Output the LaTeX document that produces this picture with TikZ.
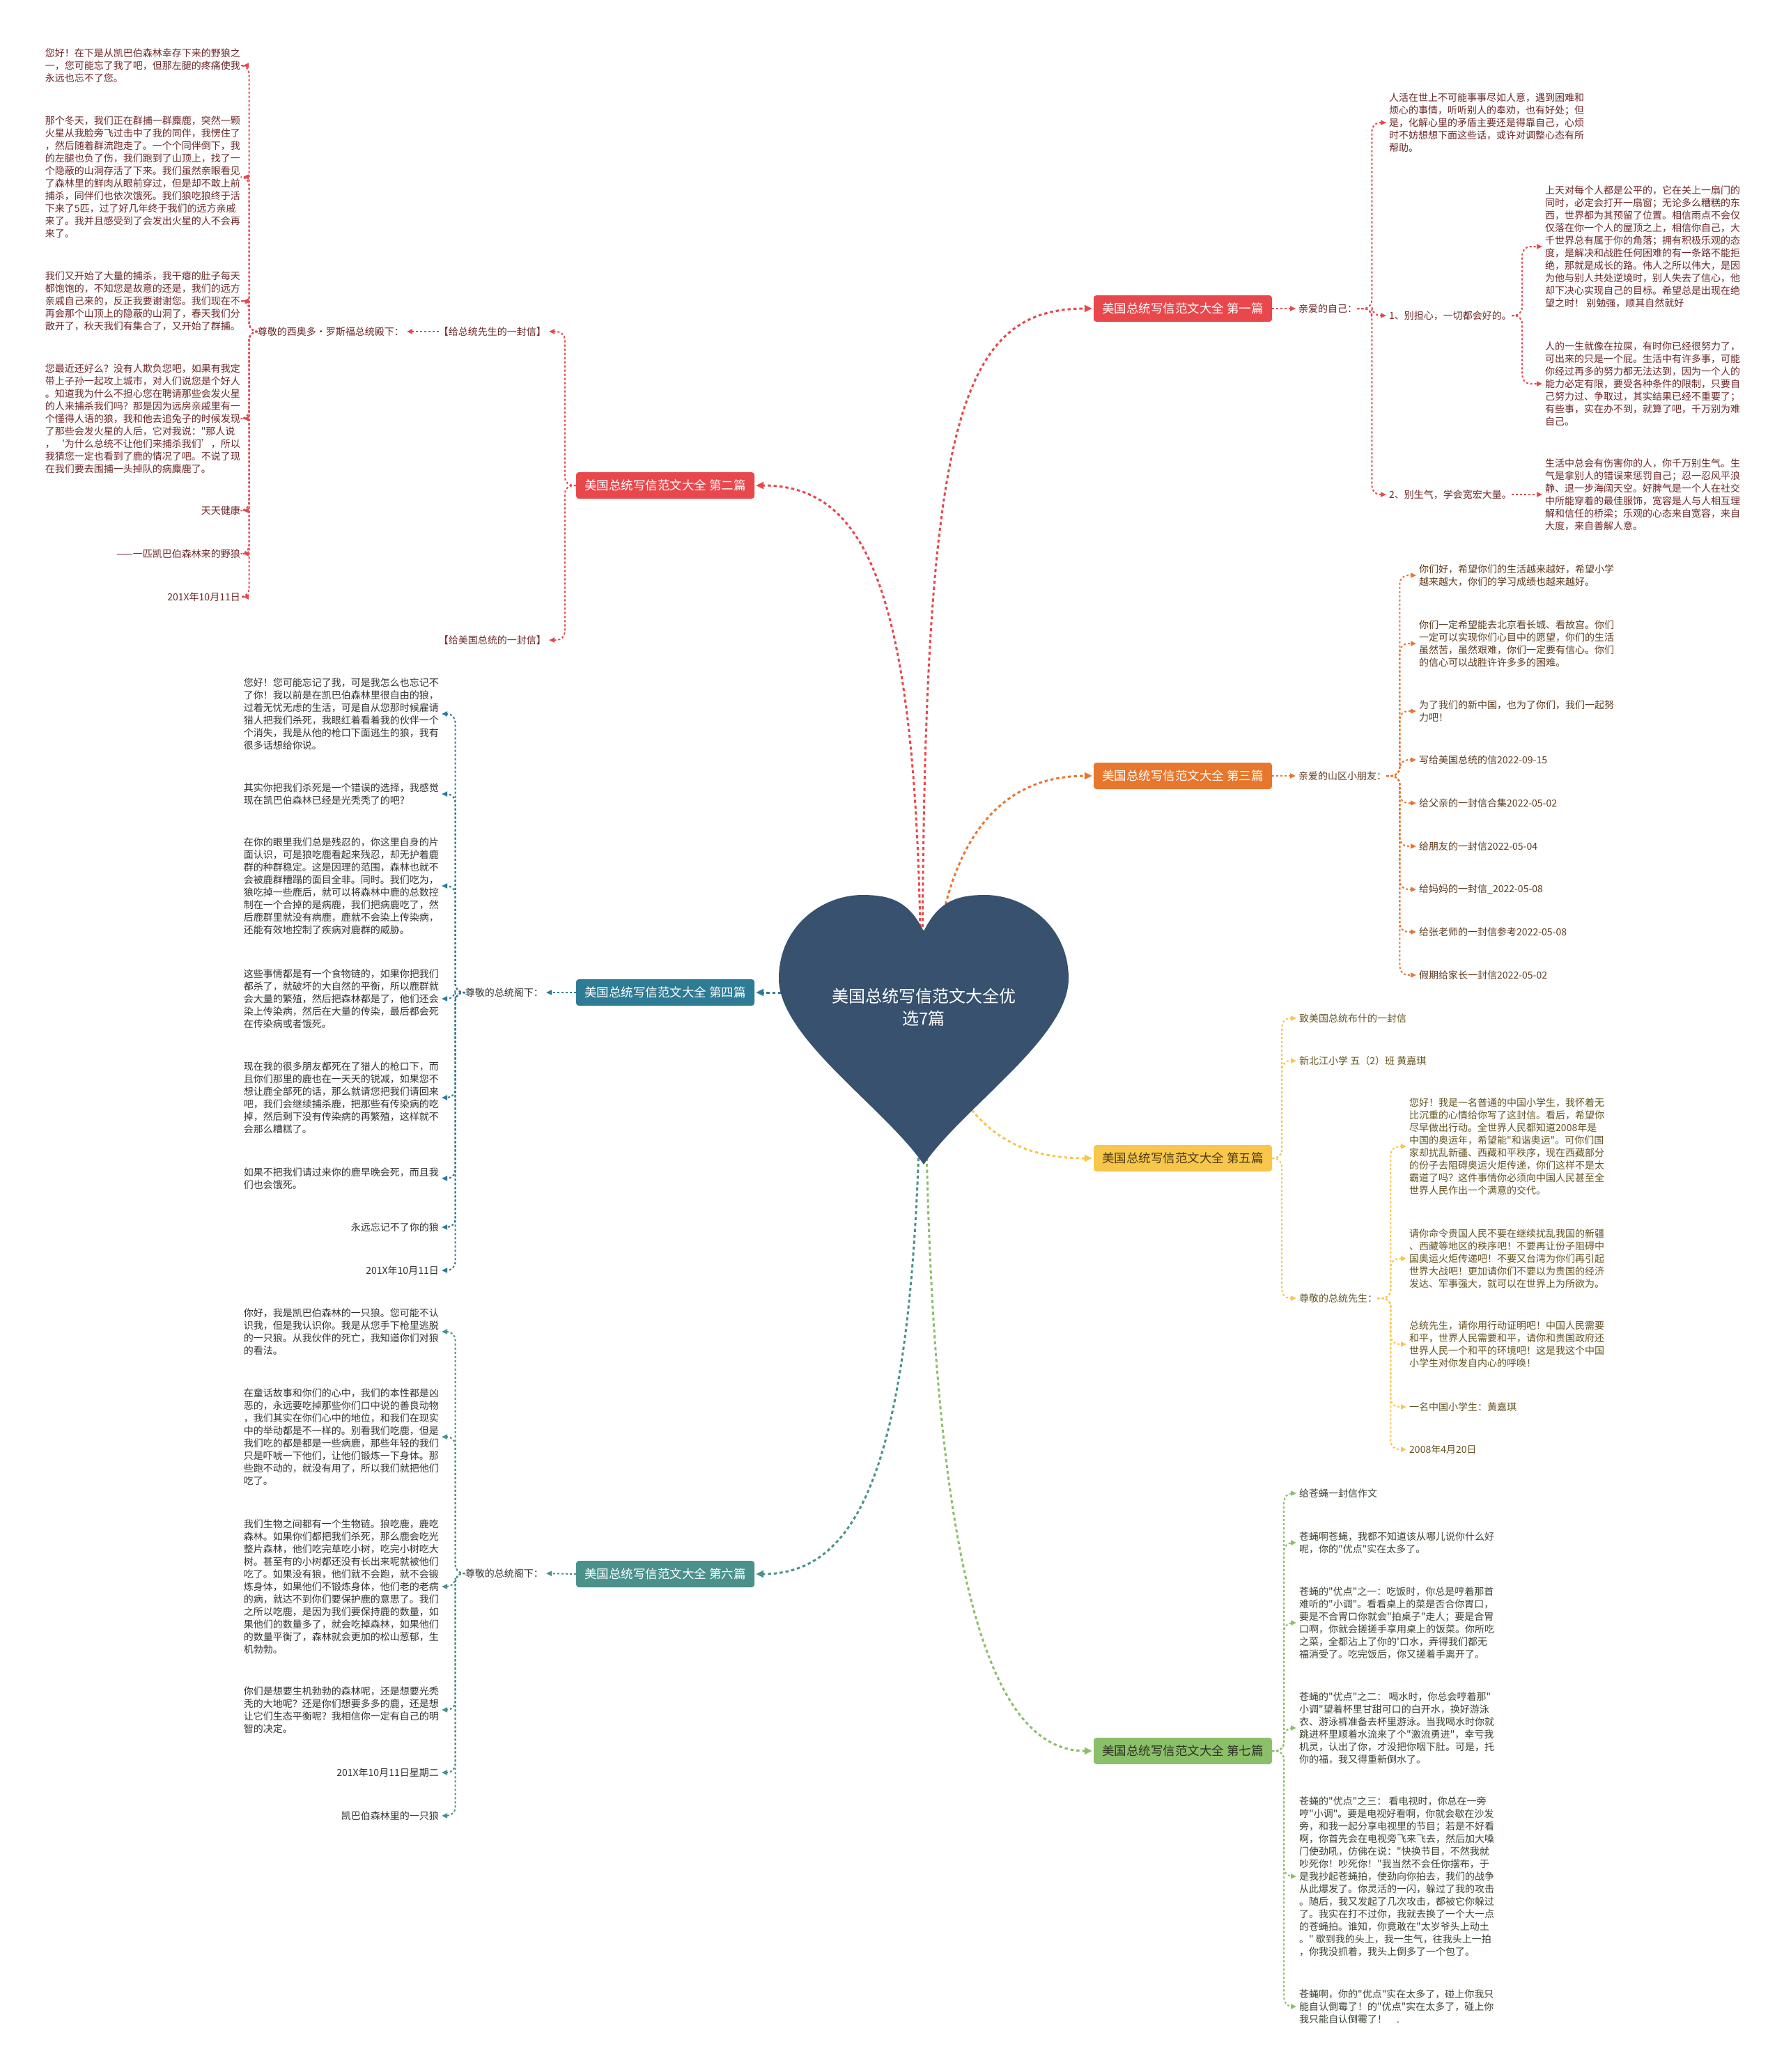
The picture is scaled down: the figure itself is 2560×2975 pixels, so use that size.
\documentclass[tikz,border=0pt]{standalone}
\usepackage{fontspec}
\newfontfamily\cjkfont{Noto Sans CJK SC}
\setmainfont{Noto Sans CJK SC}
\usetikzlibrary{arrows.meta}
\definecolor{cHeart}{HTML}{37516F}
\definecolor{cRed}{HTML}{E8474C}
\definecolor{cOrg}{HTML}{E8762D}
\definecolor{cTeal}{HTML}{2E7B96}
\definecolor{cYel}{HTML}{F7C64B}
\definecolor{cTg}{HTML}{4A918C}
\definecolor{cGrn}{HTML}{8CBF6A}
\definecolor{tRed}{HTML}{6E2727}
\definecolor{tOrg}{HTML}{5E3A1C}
\definecolor{tGray}{HTML}{333333}
\definecolor{tYel}{HTML}{65531F}
\definecolor{tGrn}{HTML}{3A4432}
\definecolor{tYelBox}{HTML}{4A3A12}
\definecolor{tGrnBox}{HTML}{2B3323}
\tikzset{
  branch/.style={rounded corners=4pt, minimum width=256pt, minimum height=38pt, inner sep=0pt, font=\cjkfont\fontsize{17.5}{20}\selectfont},
  txt/.style={inner sep=0pt, align=left, font=\cjkfont\fontsize{14}{18}\selectfont},
  conn/.style={line width=2pt, dash pattern=on 3pt off 3pt, rounded corners=12pt, -{Triangle[length=8pt,width=7pt]}, shorten >=4pt},
  mainconn/.style={line width=3pt, dash pattern=on 4.5pt off 4pt, -{Triangle[length=11pt,width=10pt]}, shorten >=2pt},
}
\newcommand\myBrR[4]{\draw[conn,#1] (#2.east) -- ([xshift=#3]#2.east) |- (#4.west);}
\newcommand\myBrL[4]{\draw[conn,#1] (#2.west) -- ([xshift=-#3]#2.west) |- (#4.east);}
\begin{document}
\begin{tikzpicture}[x=1pt,y=-1pt]
\fill[white] (0,0) rectangle (2560,2975);
\useasboundingbox (0,0) rectangle (2560,2975);

% branch boxes
\node[branch, fill=cRed, text=white] (b1) at (1698,443) {美国总统写信范文大全 第一篇};
\node[branch, fill=cRed, text=white] (b2) at (955,697) {美国总统写信范文大全 第二篇};
\node[branch, fill=cOrg, text=white] (b3) at (1698,1114) {美国总统写信范文大全 第三篇};
\node[branch, fill=cTeal, text=white] (b4) at (955,1425) {美国总统写信范文大全 第四篇};
\node[branch, fill=cYel, text=tYelBox] (b5) at (1698,1663) {美国总统写信范文大全 第五篇};
\node[branch, fill=cTg, text=white] (b6) at (955,2260) {美国总统写信范文大全 第六篇};
\node[branch, fill=cGrn, text=tGrnBox] (b7) at (1698,2514) {美国总统写信范文大全 第七篇};

% ---------- branch 1
\begin{scope}[every node/.style={txt, text=tRed, anchor=west}]
\node (n1a) at (1864,443) {亲爱的自己：};
\node (n1b) at (1994,176) {人活在世上不可能事事尽如人意，遇到困难和\\烦心的事情，听听别人的奉劝，也有好处；但\\是，化解心里的矛盾主要还是得靠自己，心烦\\时不妨想想下面这些话，或许对调整心态有所\\帮助。};
\node (n1c) at (1994,453) {1、别担心，一切都会好的。};
\node (n1c1) at (2218,354) {上天对每个人都是公平的，它在关上一扇门的\\同时，必定会打开一扇窗；无论多么糟糕的东\\西，世界都为其预留了位置。相信雨点不会仅\\仅落在你一个人的屋顶之上，相信你自己，大\\千世界总有属于你的角落；拥有积极乐观的态\\度，是解决和战胜任何困难的有一条路不能拒\\绝，那就是成长的路。伟人之所以伟大，是因\\为他与别人共处逆境时，别人失去了信心，他\\却下决心实现自己的目标。希望总是出现在绝\\望之时！ 别勉强，顺其自然就好};
\node (n1c2) at (2218,551) {人的一生就像在拉屎，有时你已经很努力了，\\可出来的只是一个屁。生活中有许多事，可能\\你经过再多的努力都无法达到，因为一个人的\\能力必定有限，要受各种条件的限制，只要自\\己努力过、争取过，其实结果已经不重要了；\\有些事，实在办不到，就算了吧，千万别为难\\自己。};
\node (n1d) at (1994,710) {2、别生气，学会宽宏大量。};
\node (n1d1) at (2218,710) {生活中总会有伤害你的人，你千万别生气。生\\气是拿别人的错误来惩罚自己；忍一忍风平浪\\静、退一步海阔天空。好脾气是一个人在社交\\中所能穿着的最佳服饰，宽容是人与人相互理\\解和信任的桥梁；乐观的心态来自宽容，来自\\大度，来自善解人意。};
\end{scope}
\draw[conn,cRed] (b1.east) -- (n1a.west);
\myBrR{cRed}{n1a}{21pt}{n1b}
\myBrR{cRed}{n1a}{21pt}{n1c}
\myBrR{cRed}{n1a}{21pt}{n1d}
\myBrR{cRed}{n1c}{15pt}{n1c1}
\myBrR{cRed}{n1c}{15pt}{n1c2}
\draw[conn,cRed] (n1d.east) -- (n1d1.west);

% ---------- branch 2
\begin{scope}[every node/.style={txt, text=tRed, anchor=east}]
\node (n2a) at (784,476) {【给总统先生的一封信】};
\node (n2b) at (784,919) {【给美国总统的一封信】};
\node (n2c) at (580,476) {尊敬的西奥多·罗斯福总统殿下：};
\node (n2d1) at (345,94) {您好！在下是从凯巴伯森林幸存下来的野狼之\\一，您可能忘了我了吧，但那左腿的疼痛使我\\永远也忘不了您。};
\node (n2d2) at (345,254) {那个冬天，我们正在群捕一群麋鹿，突然一颗\\火星从我脸旁飞过击中了我的同伴，我愣住了\\，然后随着群流跑走了。一个个同伴倒下，我\\的左腿也负了伤，我们跑到了山顶上，找了一\\个隐蔽的山洞存活了下来。我们虽然亲眼看见\\了森林里的鲜肉从眼前穿过，但是却不敢上前\\捕杀，同伴们也依次饿死。我们狼吃狼终于活\\下来了5匹，过了好几年终于我们的远方亲戚\\来了。我并且感受到了会发出火星的人不会再\\来了。};
\node (n2d3) at (345,432) {我们又开始了大量的捕杀，我干瘪的肚子每天\\都饱饱的，不知您是故意的还是，我们的远方\\亲戚自己来的，反正我要谢谢您。我们现在不\\再会那个山顶上的隐蔽的山洞了，春天我们分\\散开了，秋天我们有集合了，又开始了群捕。};
\node (n2d4) at (345,601) {您最近还好么？没有人欺负您吧，如果有我定\\带上子孙一起攻上城市，对人们说您是个好人\\。知道我为什么不担心您在聘请那些会发火星\\的人来捕杀我们吗？那是因为远房亲戚里有一\\个懂得人语的狼，我和他去追兔子的时候发现\\了那些会发火星的人后，它对我说："那人说\\，‘为什么总统不让他们来捕杀我们’，所以\\我猜您一定也看到了鹿的情况了吧。不说了现\\在我们要去围捕一头掉队的病麋鹿了。};
\node (n2d5) at (345,733) {天天健康};
\node (n2d6) at (345,795) {——一匹凯巴伯森林来的野狼};
\node (n2d7) at (345,857) {201X年10月11日};
\end{scope}
\myBrL{cRed}{b2}{16pt}{n2a}
\myBrL{cRed}{b2}{16pt}{n2b}
\draw[conn,cRed] (n2a.west) -- (n2c.east);
\foreach \k in {1,...,7} {\myBrL{cRed}{n2c}{12pt}{n2d\k}}

% ---------- branch 3
\begin{scope}[every node/.style={txt, text=tOrg, anchor=west}]
\node (n3a) at (1864,1114) {亲爱的山区小朋友：};
\node (n3b1) at (2037,826) {你们好，希望你们的生活越来越好，希望小学\\越来越大，你们的学习成绩也越来越好。};
\node (n3b2) at (2037,924) {你们一定希望能去北京看长城、看故宫。你们\\一定可以实现你们心目中的愿望，你们的生活\\虽然苦，虽然艰难，你们一定要有信心。你们\\的信心可以战胜许许多多的困难。};
\node (n3b3) at (2037,1021) {为了我们的新中国，也为了你们，我们一起努\\力吧！};
\node (n3b4) at (2037,1091) {写给美国总统的信2022-09-15};
\node (n3b5) at (2037,1153) {给父亲的一封信合集2022-05-02};
\node (n3b6) at (2037,1215) {给朋友的一封信2022-05-04};
\node (n3b7) at (2037,1277) {给妈妈的一封信\_2022-05-08};
\node (n3b8) at (2037,1338) {给张老师的一封信参考2022-05-08};
\node (n3b9) at (2037,1400) {假期给家长一封信2022-05-02};
\end{scope}
\draw[conn,cOrg] (b3.east) -- (n3a.west);
\foreach \k in {1,...,9} {\myBrR{cOrg}{n3a}{19pt}{n3b\k}}

% ---------- branch 4
\begin{scope}[every node/.style={txt, text=tGray, anchor=east}]
\node (n4a) at (780,1425) {尊敬的总统阁下：};
\node (n4b1) at (630,1025) {您好！您可能忘记了我，可是我怎么也忘记不\\了你！我以前是在凯巴伯森林里很自由的狼，\\过着无忧无虑的生活，可是自从您那时候雇请\\猎人把我们杀死，我眼红着看着我的伙伴一个\\个消失，我是从他的枪口下面逃生的狼，我有\\很多话想给你说。};
\node (n4b2) at (630,1140) {其实你把我们杀死是一个错误的选择，我感觉\\现在凯巴伯森林已经是光秃秃了的吧？};
\node (n4b3) at (630,1272) {在你的眼里我们总是残忍的，你这里自身的片\\面认识，可是狼吃鹿看起来残忍，却无护着鹿\\群的种群稳定。这是因理的范围，森林也就不\\会被鹿群糟蹋的面目全非。同时。我们吃为，\\狼吃掉一些鹿后，就可以将森林中鹿的总数控\\制在一个合掉的是病鹿，我们把病鹿吃了，然\\后鹿群里就没有病鹿，鹿就不会染上传染病，\\还能有效地控制了疾病对鹿群的威胁。};
\node (n4b4) at (630,1434) {这些事情都是有一个食物链的，如果你把我们\\都杀了，就破坏的大自然的平衡，所以鹿群就\\会大量的繁殖，然后把森林都是了，他们还会\\染上传染病，然后在大量的传染，最后都会死\\在传染病或者饿死。};
\node (n4b5) at (630,1576) {现在我的很多朋友都死在了猎人的枪口下，而\\且你们那里的鹿也在一天天的锐减，如果您不\\想让鹿全部死的话，那么就请您把我们请回来\\吧，我们会继续捕杀鹿，把那些有传染病的吃\\掉，然后剩下没有传染病的再繁殖，这样就不\\会那么糟糕了。};
\node (n4b6) at (630,1692) {如果不把我们请过来你的鹿早晚会死，而且我\\们也会饿死。};
\node (n4b7) at (630,1762) {永远忘记不了你的狼};
\node (n4b8) at (630,1824) {201X年10月11日};
\end{scope}
\draw[conn,cTeal] (b4.west) -- (n4a.east);
\foreach \k in {1,...,8} {\myBrL{cTeal}{n4a}{14pt}{n4b\k}}

% ---------- branch 5
\begin{scope}[every node/.style={txt, text=tYel, anchor=west}]
\node (n5a) at (1865,1462) {致美国总统布什的一封信};
\node (n5b) at (1865,1523) {新北江小学 五（2）班 黄嘉琪};
\node (n5c) at (1865,1864) {尊敬的总统先生：};
\node (n5c1) at (2023,1646) {您好！我是一名普通的中国小学生，我怀着无\\比沉重的心情给你写了这封信。看后，希望你\\尽早做出行动。全世界人民都知道2008年是\\中国的奥运年，希望能"和谐奥运"。可你们国\\家却扰乱新疆、西藏和平秩序，现在西藏部分\\的份子去阻碍奥运火炬传递，你们这样不是太\\霸道了吗？这件事情你必须向中国人民甚至全\\世界人民作出一个满意的交代。};
\node (n5c2) at (2023,1807) {请你命令贵国人民不要在继续扰乱我国的新疆\\、西藏等地区的秩序吧！不要再让份子阻碍中\\国奥运火炬传递吧！不要又台湾为你们再引起\\世界大战吧！更加请你们不要以为贵国的经济\\发达、军事强大，就可以在世界上为所欲为。};
\node (n5c3) at (2023,1930) {总统先生，请你用行动证明吧！中国人民需要\\和平，世界人民需要和平，请你和贵国政府还\\世界人民一个和平的环境吧！这是我这个中国\\小学生对你发自内心的呼唤！};
\node (n5c4) at (2023,2020) {一名中国小学生：黄嘉琪};
\node (n5c5) at (2023,2081) {2008年4月20日};
\end{scope}
\myBrR{cYel}{b5}{14pt}{n5a}
\myBrR{cYel}{b5}{14pt}{n5b}
\myBrR{cYel}{b5}{14pt}{n5c}
\foreach \k in {1,...,5} {\myBrR{cYel}{n5c}{19pt}{n5c\k}}

% ---------- branch 6
\begin{scope}[every node/.style={txt, text=tGray, anchor=east}]
\node (n6a) at (780,2259) {尊敬的总统阁下：};
\node (n6b1) at (630,1912) {你好，我是凯巴伯森林的一只狼。您可能不认\\识我，但是我认识你。我是从您手下枪里逃脱\\的一只狼。从我伙伴的死亡，我知道你们对狼\\的看法。};
\node (n6b2) at (630,2063) {在童话故事和你们的心中，我们的本性都是凶\\恶的，永远要吃掉那些你们口中说的善良动物\\，我们其实在你们心中的地位，和我们在现实\\中的举动都是不一样的。别看我们吃鹿，但是\\我们吃的都是都是一些病鹿，那些年轻的我们\\只是吓唬一下他们，让他们锻炼一下身体。那\\些跑不动的，就没有用了，所以我们就把他们\\吃了。};
\node (n6b3) at (630,2278) {我们生物之间都有一个生物链。狼吃鹿，鹿吃\\森林。如果你们都把我们杀死，那么鹿会吃光\\整片森林，他们吃完草吃小树，吃完小树吃大\\树。甚至有的小树都还没有长出来呢就被他们\\吃了。如果没有狼，他们就不会跑，就不会锻\\炼身体，如果他们不锻炼身体，他们老的老病\\的病，就达不到你们要保护鹿的意思了。我们\\之所以吃鹿，是因为我们要保持鹿的数量，如\\果他们的数量多了，就会吃掉森林，如果他们\\的数量平衡了，森林就会更加的松山葱郁，生\\机勃勃。};
\node (n6b4) at (630,2455) {你们是想要生机勃勃的森林呢，还是想要光秃\\秃的大地呢？还是你们想要多多的鹿，还是想\\让它们生态平衡呢？我相信你一定有自己的明\\智的决定。};
\node (n6b5) at (630,2545) {201X年10月11日星期二};
\node (n6b6) at (630,2607) {凯巴伯森林里的一只狼};
\end{scope}
\draw[conn,cTg] (b6.west) -- (n6a.east);
\foreach \k in {1,...,6} {\myBrL{cTg}{n6a}{14pt}{n6b\k}}

% ---------- branch 7
\begin{scope}[every node/.style={txt, text=tGrn, anchor=west}]
\node (n7a) at (1865,2144) {给苍蝇一封信作文};
\node (n7b) at (1865,2215) {苍蝇啊苍蝇，我都不知道该从哪儿说你什么好\\呢，你的"优点"实在太多了。};
\node (n7c) at (1865,2330) {苍蝇的"优点"之一：吃饭时，你总是哼着那首\\难听的"小调"。看看桌上的菜是否合你胃口，\\要是不合胃口你就会"拍桌子"走人；要是合胃\\口啊，你就会搓搓手享用桌上的饭菜。你所吃\\之菜，全都沾上了你的'口水，弄得我们都无\\福消受了。吃完饭后，你又搓着手离开了。};
\node (n7d) at (1865,2481) {苍蝇的"优点"之二： 喝水时，你总会哼着那"\\小调"望着杯里甘甜可口的白开水，换好游泳\\衣、游泳裤准备去杯里游泳。当我喝水时你就\\跳进杯里顺着水流来了个"激流勇进"，幸亏我\\机灵，认出了你，才没把你咽下肚。可是，托\\你的福，我又得重新倒水了。};
\node (n7e) at (1865,2694) {苍蝇的"优点"之三： 看电视时，你总在一旁\\哼"小调"。要是电视好看啊，你就会歇在沙发\\旁，和我一起分享电视里的节目；若是不好看\\啊，你首先会在电视旁飞来飞去，然后加大嗓\\门使劲吼，仿佛在说："快换节目，不然我就\\吵死你！吵死你！"我当然不会任你摆布，于\\是我抄起苍蝇拍，使劲向你拍去，我们的战争\\从此爆发了。你灵活的一闪，躲过了我的攻击\\。随后，我又发起了几次攻击，都被它你躲过\\了。我实在打不过你，我就去换了一个大一点\\的苍蝇拍。谁知，你竟敢在"太岁爷头上动土\\。" 歇到我的头上，我一生气，往我头上一拍\\，你我没抓着，我头上倒多了一个包了。};
\node (n7f) at (1865,2881) {苍蝇啊，你的"优点"实在太多了，碰上你我只\\能自认倒霉了！的"优点"实在太多了，碰上你\\我只能自认倒霉了！\quad .};
\end{scope}
\foreach \k in {a,b,c,d,e,f} {\myBrR{cGrn}{b7}{17pt}{n7\k}}

% ---------- main connectors
\draw[mainconn,cRed] (1324,1450) .. controls (1324,620) and (1370,443) .. (b1.west);
\draw[mainconn,cRed] (1322,1450) .. controls (1322,860) and (1250,697) .. (b2.east);
\draw[mainconn,cOrg] (1338,1450) .. controls (1345,1230) and (1420,1114) .. (b3.west);
\draw[mainconn,cTeal] (1300,1425) -- (b4.east);
\draw[mainconn,cYel] (1340,1480) .. controls (1385,1640) and (1480,1663) .. (b5.west);
\draw[mainconn,cTg] (1322,1450) .. controls (1322,2060) and (1250,2260) .. (b6.east);
\draw[mainconn,cGrn] (1328,1450) .. controls (1328,2260) and (1420,2514) .. (b7.west);

% ---------- heart
\fill[cHeart] (1326,1337) .. controls (1305,1295) and (1280,1285) .. (1238,1285)
  .. controls (1180,1285) and (1118,1330) .. (1118,1405)
  .. controls (1118,1490) and (1270,1590) .. (1326,1672)
  .. controls (1382,1590) and (1534,1490) .. (1534,1405)
  .. controls (1534,1330) and (1472,1285) .. (1414,1285)
  .. controls (1372,1285) and (1347,1295) .. (1326,1337) -- cycle;
\node[align=center, text=white, inner sep=0pt, font=\cjkfont\fontsize{24}{32}\selectfont] (root) at (1326,1446) {美国总统写信范文大全优\\选7篇};
\end{tikzpicture}
\end{document}
